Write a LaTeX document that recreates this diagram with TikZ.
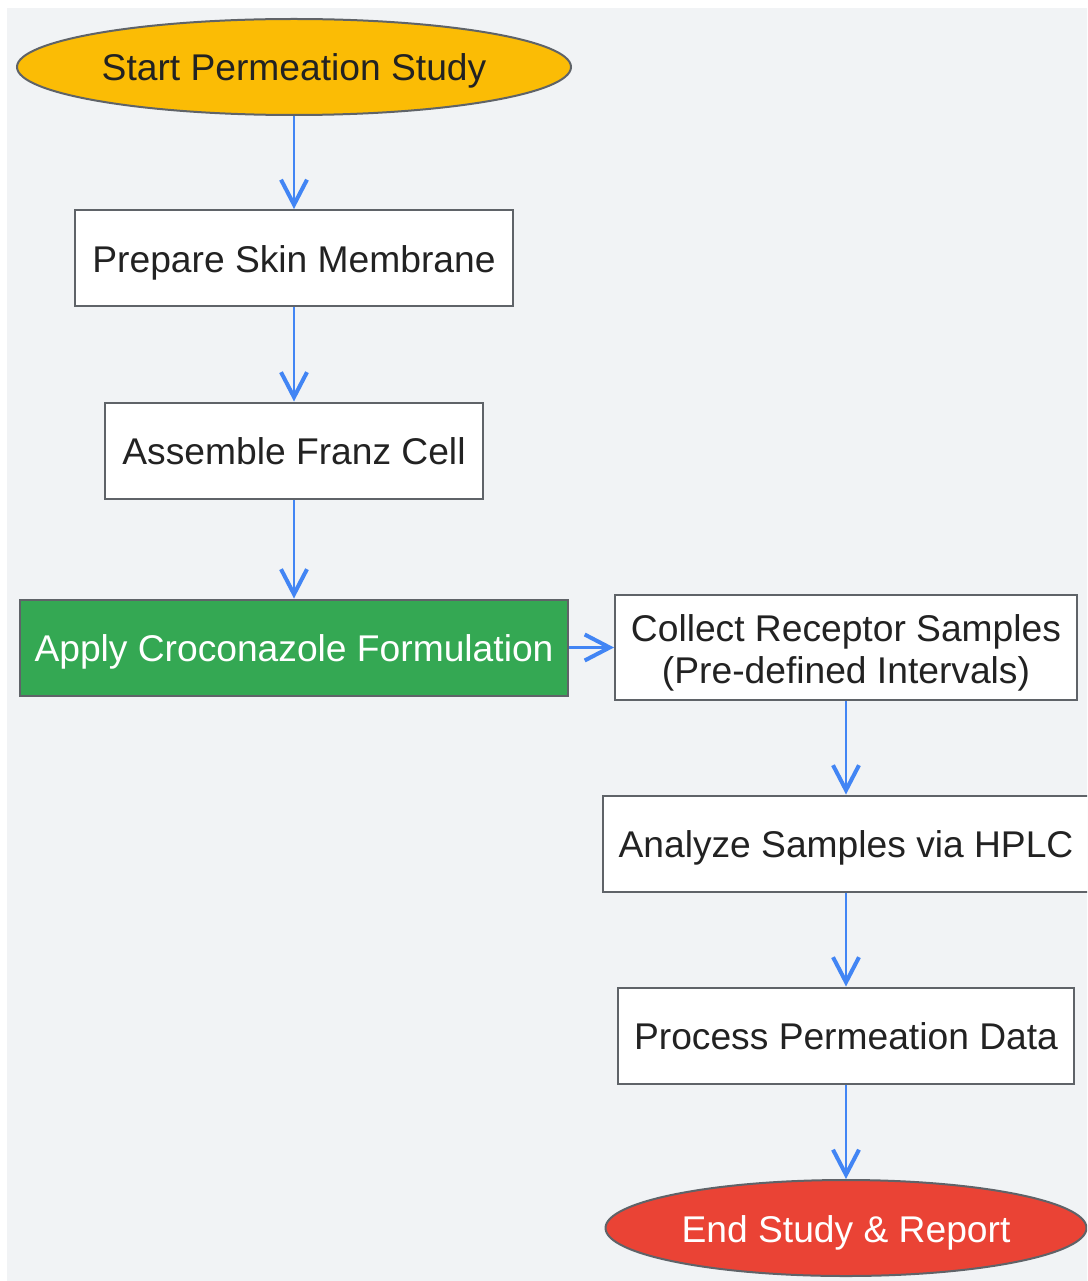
\documentclass[tikz,border=0pt]{standalone}
\usepackage{fontspec}
\setmainfont{Liberation Sans}
\usetikzlibrary{shapes.geometric,arrows.meta}
\definecolor{bg}{HTML}{F1F3F5}
\definecolor{bordc}{HTML}{5F6368}
\definecolor{txtc}{HTML}{222222}
\definecolor{startc}{HTML}{FBBC05}
\definecolor{applyc}{HTML}{34A853}
\definecolor{endc}{HTML}{EA4335}
\definecolor{arrc}{HTML}{4285F4}
\tikzset{
  base/.style={draw=bordc, line width=2pt, text=txtc, inner sep=0pt,
    font=\fontsize{37.2}{42}\selectfont, align=center,
    text height=28pt, text depth=0pt},
  stepbox/.style={base, rectangle, fill=white},
  term/.style={base, ellipse},
  flow/.style={draw=arrc, line width=2.4pt,
    -{Straight Barb[length=25pt,width=26pt,line width=4pt]}},
}
\begin{document}
\begin{tikzpicture}[x=1pt,y=-1pt]
\useasboundingbox (0,0) rectangle (1087,1281);
\clip (0,0) rectangle (1087,1281);
\fill[bg] (7,8) rectangle (1090,1285);
\node[term, fill=startc, minimum width=554pt, minimum height=96pt] (start) at (294,67) {Start Permeation Study};
\node[stepbox, minimum width=438pt, minimum height=96pt] (prep) at (294,258) {Prepare Skin Membrane};
\node[stepbox, minimum width=378pt, minimum height=96pt] (assem) at (294,450.5) {Assemble Franz Cell};
\node[stepbox, fill=applyc, text=white, minimum width=548pt, minimum height=96pt] (apply) at (294,647.5) {Apply Croconazole Formulation};
\node[stepbox, minimum width=462pt, minimum height=105pt, text height=72pt, text depth=0pt] (collect) at (846,647.5) {Collect Receptor Samples\\(Pre-defined Intervals)};
\node[stepbox, minimum width=486pt, minimum height=96pt] (analyze) at (846,843.5) {Analyze Samples via HPLC};
\node[stepbox, minimum width=456pt, minimum height=96pt] (process) at (846,1035.5) {Process Permeation Data};
\node[term, fill=endc, text=white, minimum width=481pt, minimum height=96pt] (end) at (846,1228) {End Study \& Report};
\draw[flow] (start) -- (prep);
\draw[flow] (prep) -- (assem);
\draw[flow] (assem) -- (apply);
\draw[flow] (apply) -- (collect);
\draw[flow] (collect) -- (analyze);
\draw[flow] (analyze) -- (process);
\draw[flow] (process) -- (end);
\end{tikzpicture}
\end{document}
